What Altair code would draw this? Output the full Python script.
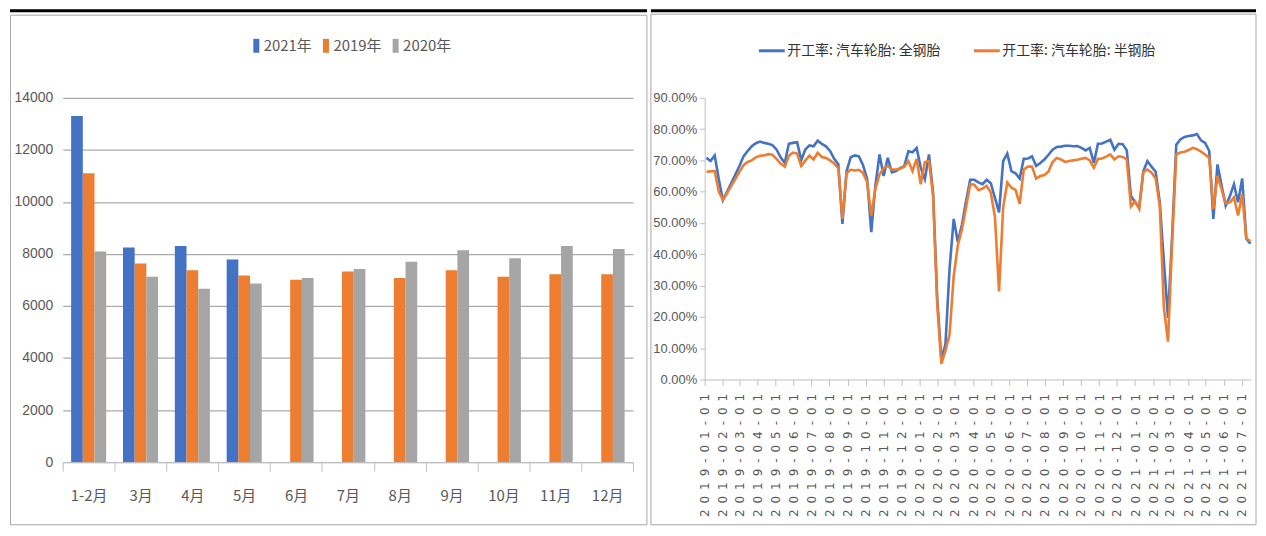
import altair as alt
import pandas as pd

# ---------------- data: left panel (monthly bars) ----------------
months = ["1-2月", "3月", "4月", "5月", "6月", "7月", "8月", "9月", "10月", "11月", "12月"]
sales_2021 = [13300, 8250, 8300, 7790, None, None, None, None, None, None, None]
sales_2019 = [11100, 7630, 7370, 7170, 7010, 7320, 7070, 7370, 7120, 7220, 7220]
sales_2020 = [8090, 7120, 6660, 6860, 7070, 7420, 7700, 8140, 7830, 8300, 8190]
bar_series = ["2021年", "2019年", "2020年"]
bar_colors = ["#4472c4", "#ed7d31", "#a5a5a5"]

# ---------------- data: right panel (weekly operating rates, %) ----------------
first_week = "2019-01-04"
n_weeks = 133
rate_allsteel = [
    70.8, 69.8, 71.6, 64.0, 57.3, 60.0, 62.7, 65.4, 68.2, 71.3,
    73.0, 74.5, 75.5, 76.0, 75.6, 75.3, 74.9, 73.5, 71.0, 69.2,
    75.3, 75.6, 75.8, 70.1, 73.5, 74.8, 74.5, 76.3, 75.3, 74.5,
    73.0, 70.5, 68.8, 49.7, 66.5, 71.0, 71.6, 71.3, 68.5, 64.0,
    47.1, 62.0, 71.9, 65.0, 70.8, 66.2, 66.6, 67.5, 68.2, 72.9,
    72.6, 74.0, 67.7, 64.0, 71.9, 59.7, 26.0, 6.5, 11.3, 35.5,
    51.3, 43.9, 49.5, 57.0, 63.8, 63.8, 63.0, 62.4, 63.8, 62.7,
    58.0, 53.4, 69.8, 72.2, 66.6, 65.9, 64.2, 70.5, 70.6, 71.3,
    68.2, 69.2, 70.3, 71.8, 73.4, 74.3, 74.4, 74.7, 74.7, 74.5,
    74.6, 74.0, 73.2, 74.0, 69.2, 75.3, 75.4, 76.0, 76.6, 73.4,
    75.3, 75.2, 73.2, 58.7, 56.6, 55.0, 66.5, 69.8, 68.0, 66.4,
    56.6, 37.6, 19.7, 46.0, 75.0, 76.7, 77.5, 77.8, 78.0, 78.4,
    76.4, 75.6, 73.0, 51.3, 68.7, 62.0, 55.5, 58.5, 62.4, 56.6,
    64.2, 45.0, 43.4,
]
rate_semisteel = [
    66.4, 66.5, 66.6, 60.0, 57.3, 59.5, 61.8, 64.0, 66.3, 68.5,
    69.5, 70.0, 71.0, 71.5, 71.6, 72.0, 71.8, 70.5, 69.0, 68.0,
    71.5, 72.5, 72.2, 68.2, 70.0, 71.5, 70.3, 72.4, 71.1, 70.8,
    70.0, 69.0, 67.5, 51.3, 66.0, 67.0, 66.8, 67.0, 66.0, 63.0,
    52.4, 61.0, 65.5, 67.5, 68.2, 67.1, 67.1, 67.3, 68.0, 69.8,
    66.6, 70.5, 62.4, 69.5, 69.8, 58.7, 24.0, 5.0, 9.2, 14.4,
    33.0, 42.9, 48.0, 55.0, 62.4, 62.2, 60.5, 61.0, 61.9, 59.7,
    52.0, 28.1, 55.0, 62.9, 61.3, 60.6, 56.1, 67.1, 68.0, 68.0,
    64.2, 65.0, 65.3, 66.5, 69.5, 70.8, 70.3, 69.5, 69.8, 70.0,
    70.2, 70.5, 70.8, 70.0, 67.7, 70.5, 70.6, 71.2, 71.9, 70.3,
    71.3, 71.1, 70.3, 55.3, 56.9, 54.5, 66.3, 67.1, 66.1, 64.2,
    55.5, 22.9, 12.1, 44.0, 71.9, 72.5, 72.8, 73.3, 74.0, 73.6,
    72.8, 71.9, 70.8, 54.5, 65.0, 60.8, 56.3, 56.6, 58.2, 52.4,
    59.2, 45.0, 44.2,
]
line_series = ["开工率: 汽车轮胎: 全钢胎", "开工率: 汽车轮胎: 半钢胎"]
line_colors = ["#4472c4", "#ed7d31"]
y_ticks = [0, 0.1, 0.2, 0.3, 0.4, 0.5, 0.6, 0.7, 0.8, 0.9]

# ---------------- tables ----------------
rows = []
for name, vals in zip(bar_series, [sales_2021, sales_2019, sales_2020]):
    for m, v in zip(months, vals):
        if v is not None:
            rows.append({"month": m, "series": name, "value": v})
bar_df = pd.DataFrame(rows)

week_dates = [d.strftime("%Y-%m-%d") for d in pd.date_range(first_week, periods=n_weeks, freq="7D")]
line_rows = []
for name, vals in zip(line_series, [rate_allsteel, rate_semisteel]):
    for d, v in zip(week_dates, vals):
        line_rows.append({"date": d, "series": name, "value": v / 100.0})
line_df = pd.DataFrame(line_rows)

one = pd.DataFrame({"k": [0]})

FONT_NUM = "Liberation Sans Narrow, Liberation Sans, sans-serif"
FONT_CJK = "Liberation Sans Narrow, Noto Sans CJK SC, sans-serif"
GREY_AX = "#bfbfbf"
LABEL_C = "#595959"

# ---------------- left panel ----------------
W1, H1 = 573, 366
frame_l = alt.Chart(one).mark_rect(fillOpacity=0, stroke="#a6a6a6", strokeWidth=1).encode(
    x=alt.value(-52.5), x2=alt.value(587), y=alt.value(-83), y2=alt.value(429)
)
topline_l = alt.Chart(one).mark_rule(color="black", strokeWidth=3).encode(
    x=alt.value(-53), x2=alt.value(587), y=alt.value(-87.5)
)
bars = alt.Chart(bar_df).mark_bar().encode(
    x=alt.X(
        "month:N",
        sort=months,
        scale=alt.Scale(domain=months, paddingInner=0, paddingOuter=0),
        axis=alt.Axis(
            title=None, labelAngle=0, tickBand="extent", tickSize=9, tickColor=GREY_AX,
            domainColor=GREY_AX, labelPadding=18, labelFontSize=15, labelColor=LABEL_C,
            labelFont=FONT_CJK, grid=False,
        ),
    ),
    xOffset=alt.XOffset("series:N", scale=alt.Scale(domain=bar_series, paddingInner=0, paddingOuter=0.72)),
    y=alt.Y(
        "value:Q",
        scale=alt.Scale(domain=[0, 14000], nice=False),
        axis=alt.Axis(
            title=None, values=list(range(0, 14001, 2000)), format="d", grid=True,
            gridColor="#ababab", gridWidth=1.3, domain=False, ticks=False, labelPadding=10,
            labelFontSize=14, labelColor=LABEL_C, labelFont=FONT_NUM,
        ),
    ),
    color=alt.Color(
        "series:N",
        scale=alt.Scale(domain=bar_series, range=bar_colors),
        legend=alt.Legend(
            title=None, orient="none", legendX=187, legendY=-60, direction="horizontal",
            symbolType="M-0.43,-1L0.43,-1L0.43,1L-0.43,1Z", symbolSize=196, symbolStrokeWidth=0,
            labelFontSize=15, labelFont=FONT_CJK, labelColor=LABEL_C, labelOffset=0,
            columnPadding=6, padding=0,
        ),
    ),
)
left = alt.layer(frame_l, topline_l, bars).properties(width=W1, height=H1)

# ---------------- right panel ----------------
W2, H2 = 549, 283
frame_r = alt.Chart(one).mark_rect(fillOpacity=0, stroke="#a6a6a6", strokeWidth=1).encode(
    x=alt.value(-54), x2=alt.value(554), y=alt.value(-84), y2=alt.value(429)
)
topline_r = alt.Chart(one).mark_rule(color="black", strokeWidth=3).encode(
    x=alt.value(-54), x2=alt.value(554), y=alt.value(-87.5)
)
label_expr = "join(split(utcFormat(datum.value, '%Y-%m-%d'), ''), '\u2002')"
lines = alt.Chart(line_df).mark_line(strokeWidth=2.6).encode(
    x=alt.X(
        "date:T",
        scale=alt.Scale(
            type="utc",
            domain=[alt.DateTime(year=2019, month=1, date=1, utc=True),
                    alt.DateTime(year=2021, month=7, date=17, utc=True)],
            nice=False,
        ),
        axis=alt.Axis(
            title=None, tickCount={"interval": "month", "step": 1}, labelAngle=-90,
            labelExpr=label_expr, labelFont="DejaVu Sans", labelFontSize=12, labelColor=LABEL_C,
            labelPadding=8, tickSize=6, tickColor=GREY_AX, domainColor=GREY_AX, grid=False,
            labelOverlap=False, labelFlush=False,
        ),
    ),
    y=alt.Y(
        "value:Q",
        scale=alt.Scale(domain=[0, 0.9], nice=False),
        axis=alt.Axis(
            title=None, format=".2%", values=y_ticks, grid=False, tickSize=5, tickColor=GREY_AX,
            domainColor=GREY_AX, labelPadding=3, labelFontSize=13, labelColor=LABEL_C,
            labelFont=FONT_NUM,
        ),
    ),
    color=alt.Color(
        "series:N",
        sort=line_series,
        scale=alt.Scale(domain=line_series, range=line_colors),
        legend=alt.Legend(
            title=None, orient="none", legendX=53, legendY=-62, direction="horizontal",
            symbolType="stroke", symbolSize=676, symbolStrokeWidth=3,
            labelFont="Noto Sans CJK SC", labelFontSize=14, labelColor="#333333",
            labelOffset=1, columnPadding=26, padding=0,
        ),
    ),
)
right = alt.layer(frame_r, topline_r, lines).properties(width=W2, height=H2)

chart = (
    alt.hconcat(left, right, spacing=0)
    .resolve_scale(color="independent")
    .properties(padding=0)
    .configure_view(stroke=None)
)

chart.save("out.html", embed_options={"renderer": "svg", "actions": False})
